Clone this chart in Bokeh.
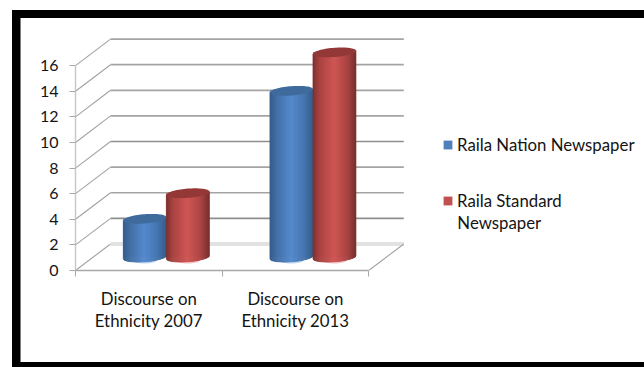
import numpy as np
from bokeh.embed import file_html
from bokeh.models import FixedTicker, Legend, LegendItem, LinearAxis, Range1d
from bokeh.plotting import figure
from bokeh.resources import INLINE

categories = ["Discourse on\nEthnicity 2007", "Discourse on\nEthnicity 2013"]
series_names = ["Raila Nation Newspaper", "Raila Standard\nNewspaper"]
nation_values = [3, 13]
standard_values = [5, 16]
y_ticks = [0, 2, 4, 6, 8, 10, 12, 14, 16]

# scale of the plot area, in pixels per data unit
PX_X, PX_Y = 146.5, 12.78
FONT = "Lato"
FONT_PX = "16.8px"
TEXT = "#141414"
DEPTH_X, DEPTH_Y = 35 / PX_X, 26.5 / PX_Y
CYL_W = 43 / PX_X
ELL_H = 4.6 / PX_Y
ELL_TILT = 1.6 / PX_Y

# the heavy black frame is painted behind a transparent canvas
frame_bands = ", ".join(
    f"linear-gradient(#000,#000) {x}px {y}px/{w}px {h}px no-repeat"
    for x, y, w, h in [(12, 10, 8.5, 357), (12, 10, 632, 8), (12, 362, 632, 5)]
)
p = figure(width=644, height=367, output_backend="svg", toolbar_location=None,
           x_range=Range1d(0, (644 - 75.5) / PX_X), y_range=Range1d(0, 269.5 / PX_Y),
           min_border_left=75, min_border_right=0, min_border_top=0, min_border_bottom=97,
           background_fill_color=None, border_fill_color=None,
           outline_line_color=None, x_axis_type=None, y_axis_type=None,
           styles={"background": frame_bands + ", #fff"})
p.grid.visible = False

# value axis
y_axis = LinearAxis(ticker=FixedTicker(ticks=y_ticks), bounds=(0, 16))
y_axis.axis_line_color = "#c8c8c8"
y_axis.axis_line_width = 1.5
y_axis.major_tick_line_color = "#a8a8a8"
y_axis.major_tick_out = 6
y_axis.major_tick_in = 0
y_axis.minor_tick_line_color = None
y_axis.major_label_standoff = 11
y_axis.major_label_text_font = FONT
y_axis.major_label_text_font_size = "16px"
y_axis.major_label_text_color = TEXT
p.add_layout(y_axis, "left")

# floor edge: names sit between the separators, which are the minor ticks
x_axis = LinearAxis(ticker=FixedTicker(ticks=[0.5, 1.5], minor_ticks=[0, 1, 2]), bounds=(0, 2),
                    major_label_overrides={0.5: categories[0], 1.5: categories[1]})
x_axis.axis_line_color = "#a8a8a8"
x_axis.axis_line_width = 1.5
x_axis.major_tick_line_color = None
x_axis.major_tick_out = 0
x_axis.major_tick_in = 0
x_axis.minor_tick_line_color = "#a8a8a8"
x_axis.minor_tick_out = 6
x_axis.minor_tick_in = 0
x_axis.major_label_standoff = 11
x_axis.major_label_text_font = FONT
x_axis.major_label_text_font_size = FONT_PX
x_axis.major_label_text_color = TEXT
x_axis.major_label_text_line_height = 1.05
p.add_layout(x_axis, "below")

# side wall and back wall gridlines
side_x = [[0, DEPTH_X] for _ in y_ticks]
side_y = [[v, v + DEPTH_Y] for v in y_ticks]
p.multi_line(side_x, side_y, line_color="#a2a2a2", line_width=1.1)
dark = {2, 8}
back_x, back_y, back_col, back_w = [], [], [], []
for v in y_ticks:
    back_x.append([DEPTH_X, 2 + DEPTH_X])
    back_y.append([v + DEPTH_Y, v + DEPTH_Y])
    back_col.append("#e2e2e2" if v == 0 else "#8e8e8e" if v in dark else "#a4a4a4")
    back_w.append(4 if v == 0 else 1.7)
p.multi_line(back_x, back_y, line_color=back_col, line_width=back_w)
p.line([2, 2 + DEPTH_X], [0, DEPTH_Y], line_color="#a2a2a2", line_width=1.1)


def shade(stops, t):
    """Colour across the cylinder: t runs 0..1 from left edge to right edge."""
    pos = [s[0] for s in stops]
    rgb = [np.interp(t, pos, [s[1][i] for s in stops]) for i in range(3)]
    return "#%02x%02x%02x" % tuple(int(round(c)) for c in rgb)


BLUE = [(0, (52, 92, 138)), (0.18, (68, 113, 168)), (0.5, (86, 139, 206)),
        (0.78, (72, 120, 178)), (1, (54, 94, 140))]
RED = [(0, (122, 48, 46)), (0.15, (168, 68, 66)), (0.5, (208, 88, 86)),
       (0.8, (172, 70, 68)), (1, (120, 48, 46))]


def cylinder(centre, value, stops, top_colour, blush):
    half = CYL_W / 2
    base = DEPTH_Y / 2
    t = np.linspace(-1, 1, 61)
    phase = np.linspace(0, 2 * np.pi, 73)
    ring_x = centre + half * np.cos(phase)

    def lower(cy, q):
        return cy + ELL_TILT * q - ELL_H * np.sqrt(np.clip(1 - q * q, 0, 1))

    # soft reflection under the base
    p.patch(centre + 0.55 * half * np.cos(phase), base - 0.25 + 0.24 * np.sin(phase),
            fill_color=blush, line_color=None)
    xs, ys, cols = [], [], []
    for a, b in zip(t[:-1], t[1:]):
        xs.append([centre + half * a, centre + half * b, centre + half * b, centre + half * a])
        ys.append([lower(base, a), lower(base, b), lower(base + value, b), lower(base + value, a)])
        cols.append(shade(stops, (a + b + 2) / 4))
    p.patches(xs, ys, fill_color=cols, line_color=cols, line_width=0.6)
    p.patch(ring_x, base + value + ELL_TILT * np.cos(phase) + ELL_H * np.sin(phase),
            fill_color=top_colour, line_color=None)


centres = [0.5 + DEPTH_X / 2, 1.5 + DEPTH_X / 2]
# flat series bars carry the legend keys; the shaded cylinders are painted over them
half_w = CYL_W / 2
blue_bars = p.quad(left=[c - CYL_W for c in centres], right=centres,
                   bottom=[DEPTH_Y / 2] * 2, top=[DEPTH_Y / 2 + v for v in nation_values],
                   fill_color="#4f81bd", line_color=None)
red_bars = p.quad(left=centres, right=[c + CYL_W for c in centres],
                  bottom=[DEPTH_Y / 2] * 2, top=[DEPTH_Y / 2 + v for v in standard_values],
                  fill_color="#c0504d", line_color=None)
for c, nv, sv in zip(centres, nation_values, standard_values):
    cylinder(c - half_w, nv, BLUE, "#3f6a9c", "#c4d6ee")
    cylinder(c + half_w, sv, RED, "#933836", "#f2c8c7")

# the second entry wraps: its key lines up with the first line only
first_line, wrapped_line = series_names[1].split("\n")
legend = Legend(items=[LegendItem(label=series_names[0], renderers=[blue_bars]),
                       LegendItem(label=first_line, renderers=[red_bars])],
                location=(367, 59), orientation="vertical", padding=0, margin=0,
                spacing=35, glyph_width=11, glyph_height=11, label_standoff=4,
                label_text_font=FONT, label_text_font_size=FONT_PX,
                label_text_color=TEXT, label_height=11, background_fill_alpha=0,
                border_line_color=None)
p.add_layout(legend, "center")
p.text(x=[(457 - 75.5) / PX_X], y=[(269.5 - 222) / PX_Y], text=[wrapped_line],
       text_font_size=FONT_PX, text_font={"value": FONT}, text_color=TEXT,
       text_baseline="middle", text_align="left")

open("out.html", "w").write(file_html(p, INLINE))
